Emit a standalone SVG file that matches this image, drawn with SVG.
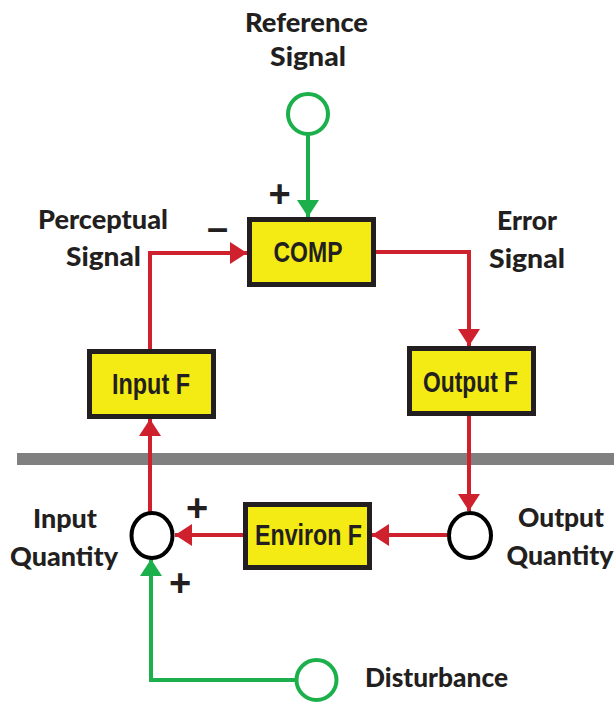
<svg xmlns="http://www.w3.org/2000/svg" width="614" height="702" viewBox="0 0 614 702">
<style>
.box{fill:#f4ea14;stroke:#231f20;stroke-width:5}
.bt{font-family:"Liberation Sans",Arial,sans-serif;font-weight:bold;font-size:30px;fill:#231f20;text-anchor:middle}
.lb{font-family:Lato,"Liberation Sans",sans-serif;font-weight:900;font-size:26px;fill:#231f20;text-anchor:middle}
.sg{font-family:"Liberation Sans",Arial,sans-serif;font-weight:bold;font-size:38px;fill:#231f20;text-anchor:middle}
.red{fill:none;stroke:#cf202e;stroke-width:4}
.grn{fill:none;stroke:#1bb04b;stroke-width:4}
.gc{fill:#fff;stroke:#1bb04b;stroke-width:4}
.bc{fill:#fff;stroke:#000;stroke-width:4}
</style>
<defs>
<marker id="ar" markerUnits="userSpaceOnUse" markerWidth="18" markerHeight="24" refX="17" refY="11" orient="auto">
<path d="M0,0 L17,11 L0,22 Z" fill="#cf202e"/>
</marker>
<marker id="ag" markerUnits="userSpaceOnUse" markerWidth="18" markerHeight="24" refX="17" refY="11" orient="auto">
<path d="M0,0 L17,11 L0,22 Z" fill="#1bb04b"/>
</marker>
</defs>
<rect id="divider" x="17" y="453" width="597" height="12" fill="#808080"/>
<g id="connectors">
<path class="grn" d="M308,134 L308,217" marker-end="url(#ag)"/>
<path class="red" d="M376,252 L469,252 L469,346" marker-end="url(#ar)"/>
<path class="red" d="M469,416 L469,511" marker-end="url(#ar)"/>
<path class="red" d="M449,535 L372,535" marker-end="url(#ar)"/>
<path class="red" d="M243,535 L175,535" marker-end="url(#ar)"/>
<path class="red" d="M150,512 L150,419" marker-end="url(#ar)"/>
<path class="red" d="M150,349 L150,253 L247,253" marker-end="url(#ar)"/>
<path class="grn" d="M295,680 L151,680 L151,559" marker-end="url(#ag)"/>
</g>
<g id="reference">
<circle class="gc" cx="308" cy="114" r="20"/>
<text class="lb" x="306.5" y="32" textLength="123" lengthAdjust="spacingAndGlyphs">Reference</text>
<text class="lb" x="308" y="66" textLength="76" lengthAdjust="spacingAndGlyphs">Signal</text>
</g>
<g id="comp">
<rect class="box" x="249.5" y="219.5" width="124" height="65"/>
<text class="bt" x="308" y="262" textLength="69" lengthAdjust="spacingAndGlyphs">COMP</text>
</g>
<g id="inputf">
<rect class="box" x="89.5" y="351.5" width="124" height="65"/>
<text class="bt" x="151" y="394" textLength="78" lengthAdjust="spacingAndGlyphs">Input F</text>
</g>
<g id="outputf">
<rect class="box" x="409.5" y="348.5" width="124" height="65"/>
<text class="bt" x="470.5" y="392" textLength="95" lengthAdjust="spacingAndGlyphs">Output F</text>
</g>
<g id="environf">
<rect class="box" x="245.5" y="504.5" width="124" height="63"/>
<text class="bt" x="308.5" y="545" textLength="107" lengthAdjust="spacingAndGlyphs">Environ F</text>
</g>
<g id="inputq">
<ellipse class="bc" cx="152" cy="535.5" rx="20.5" ry="22.5"/>
<text class="lb" x="65" y="528" textLength="64" lengthAdjust="spacingAndGlyphs">Input</text>
<text class="lb" x="64" y="566" textLength="108" lengthAdjust="spacingAndGlyphs">Quantity</text>
</g>
<g id="outputq">
<ellipse class="bc" cx="470" cy="535.5" rx="21" ry="22.5"/>
<text class="lb" x="561" y="527" textLength="86" lengthAdjust="spacingAndGlyphs">Output</text>
<text class="lb" x="560" y="565" textLength="107" lengthAdjust="spacingAndGlyphs">Quantity</text>
</g>
<g id="disturbance">
<circle class="gc" cx="316.5" cy="680" r="20"/>
<text class="lb" x="436.5" y="687" textLength="143" lengthAdjust="spacingAndGlyphs">Disturbance</text>
</g>
<g id="labels">
<text class="lb" x="103" y="229" textLength="130" lengthAdjust="spacingAndGlyphs">Perceptual</text>
<text class="lb" x="103.5" y="266" textLength="75" lengthAdjust="spacingAndGlyphs">Signal</text>
<text class="lb" x="527" y="230" textLength="60" lengthAdjust="spacingAndGlyphs">Error</text>
<text class="lb" x="527" y="268" textLength="76" lengthAdjust="spacingAndGlyphs">Signal</text>
<text class="sg" x="279.5" y="207">+</text>
<text class="sg" x="217.5" y="241">–</text>
<text class="sg" x="197" y="521">+</text>
<text class="sg" x="180" y="596">+</text>
</g>
</svg>
